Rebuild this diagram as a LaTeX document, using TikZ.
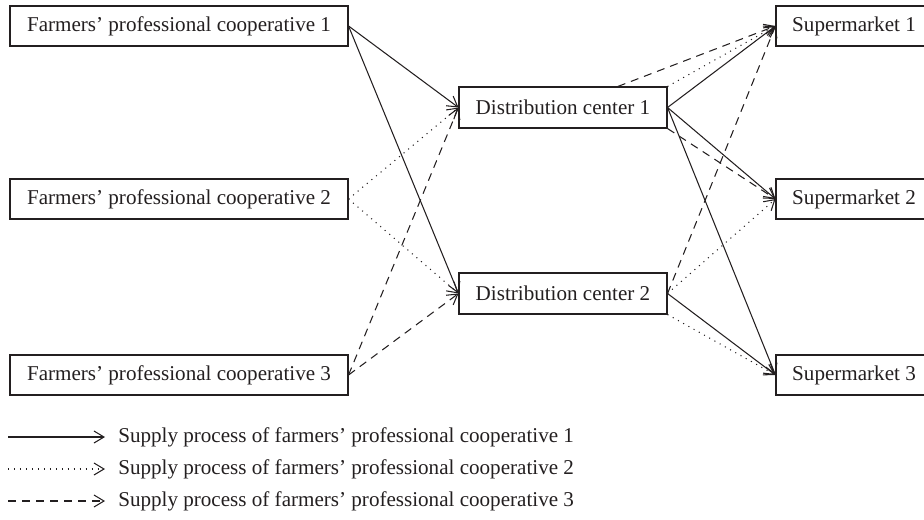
\documentclass[tikz,border=0pt]{standalone}
\usepackage{fontspec}
\setmainfont{Liberation Serif}
\usetikzlibrary{arrows.meta}
\definecolor{ink}{HTML}{231F20}

\begin{document}
\begin{tikzpicture}[
    >={Straight Barb[length=2mm,width=2.4mm]},
    box/.style={draw=ink, line width=0.6pt, text=ink, font=\fontsize{12}{14}\selectfont,
        minimum height=0.8cm, inner sep=0pt},
    keytext/.style={anchor=west, text=ink, font=\fontsize{12}{14}\selectfont, inner sep=0pt},
    firstflow/.style={ink, line width=0.6pt, ->},
    secondflow/.style={ink, line width=0.6pt, dash pattern=on 0.6pt off 2.8pt, ->},
    thirdflow/.style={ink, line width=0.6pt, dash pattern=on 1.6mm off 1.2mm, ->},
]
    \useasboundingbox (0,0) rectangle (18.48,10.38);

    % cooperatives
    \node[box, minimum width=6.76cm] (coop1) at (3.58,9.86) {Farmers’ professional cooperative 1};
    \node[box, minimum width=6.76cm] (coop2) at (3.58,6.40) {Farmers’ professional cooperative 2};
    \node[box, minimum width=6.76cm] (coop3) at (3.58,2.88) {Farmers’ professional cooperative 3};

    % distribution centers
    \node[box, minimum width=4.16cm, minimum height=0.82cm] (dc1) at (11.26,8.23) {Distribution center 1};
    \node[box, minimum width=4.16cm, minimum height=0.82cm] (dc2) at (11.26,4.51) {Distribution center 2};

    % supermarkets
    \node[box, minimum width=3.12cm] (market1) at (17.08,9.86) {Supermarket 1};
    \node[box, minimum width=3.12cm] (market2) at (17.08,6.40) {Supermarket 2};
    \node[box, minimum width=3.12cm] (market3) at (17.08,2.88) {Supermarket 3};

    % cooperative 1
    \draw[firstflow] (coop1.east) -- (dc1.west);
    \draw[firstflow] (coop1.east) -- (dc2.west);
    \draw[firstflow] (dc1.east) -- (market1.west);
    \draw[firstflow] (dc1.east) -- (market2.west);
    \draw[firstflow] (dc1.east) -- (market3.west);
    \draw[firstflow] (dc2.east) -- (market3.west);

    % cooperative 2
    \draw[secondflow] (coop2.east) -- (dc1.west);
    \draw[secondflow] (coop2.east) -- (dc2.west);
    \draw[secondflow] (dc1.north east) -- (market1.west);
    \draw[secondflow] (dc2.east) -- (market2.west);
    \draw[secondflow] (dc2.south east) -- (market3.west);

    % cooperative 3
    \draw[thirdflow] (coop3.east) -- (dc1.west);
    \draw[thirdflow] (coop3.east) -- (dc2.west);
    \draw[thirdflow] (dc1) -- (market1.west);
    \draw[thirdflow] (dc1.south east) -- (market2.west);
    \draw[thirdflow] (dc2.east) -- (market1.west);

    % legend
    \foreach \s/\y [count=\i] in {firstflow/1.64, secondflow/1.00, thirdflow/0.36} {
        \coordinate (key\i) at (0.16,\y);
        \node[keytext] (keytext\i) at (2.36,\y) {Supply process of farmers’ professional cooperative \i};
        \draw[\s, shorten >=2.6mm] (key\i) -- (keytext\i.west);
    }
\end{tikzpicture}
\end{document}
